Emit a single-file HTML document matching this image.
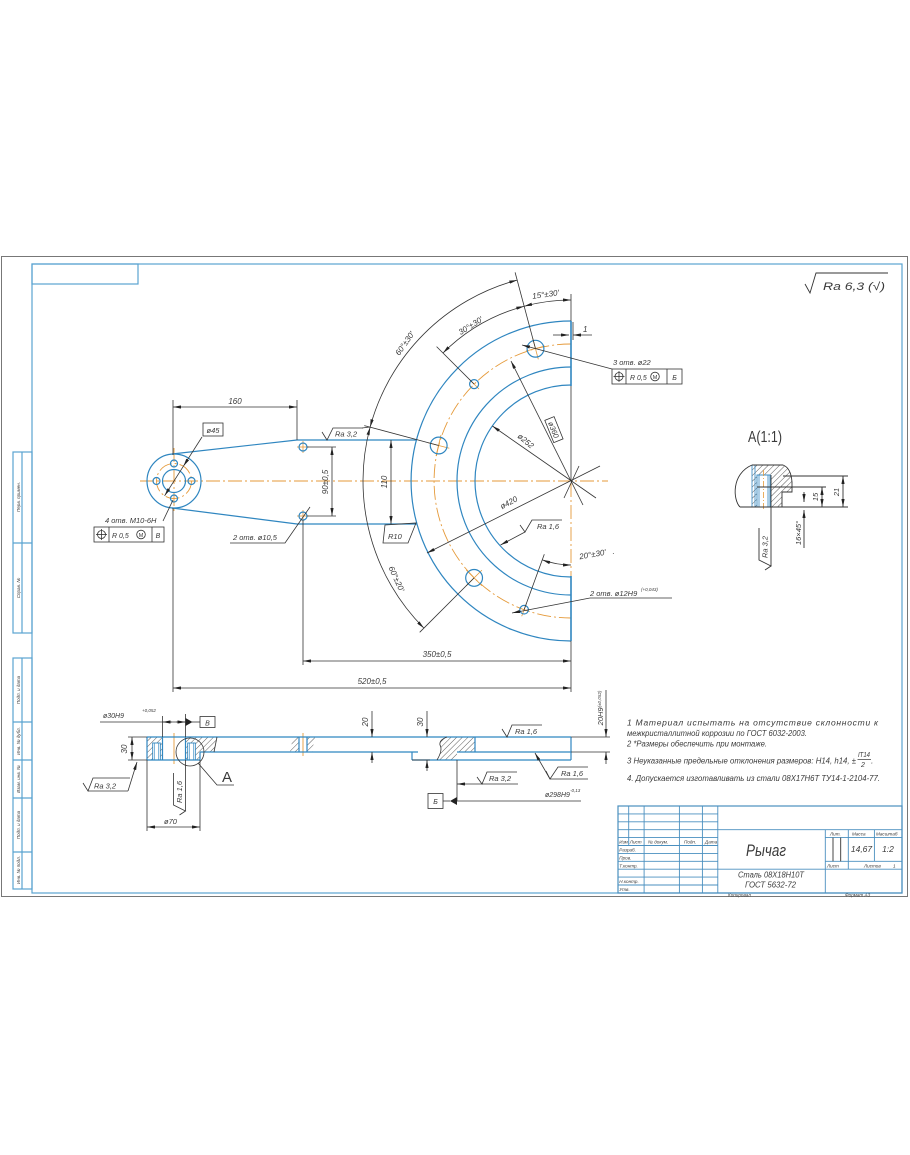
<!DOCTYPE html>
<html><head><meta charset="utf-8">
<style>
html,body{margin:0;padding:0;background:#fff;}
svg{display:block;}
text{font-family:"Liberation Sans","DejaVu Sans",sans-serif;font-style:italic;fill:#3a3a3a;}
.n{font-style:normal;}
</style></head><body>
<svg width="910" height="1155" viewBox="0 0 910 1155" xmlns="http://www.w3.org/2000/svg">
<defs>
<marker id="a" viewBox="0 0 10 4" refX="10" refY="2" markerWidth="8" markerHeight="3.2" markerUnits="userSpaceOnUse" orient="auto-start-reverse"><path d="M0,0L10,2L0,4z" fill="#222"/></marker>
<pattern id="h" patternUnits="userSpaceOnUse" width="4" height="4" patternTransform="rotate(45)"><line x1="0" y1="0" x2="0" y2="4" stroke="#333" stroke-width="0.8"/></pattern>
</defs>
<rect width="910" height="1155" fill="#fff"/>

<rect x="1.5" y="256.5" width="906" height="640" fill="none" stroke="#777" stroke-width="1"/>
<g fill="none" stroke="#5aa3d0" stroke-width="1.2">
<rect x="32" y="264" width="870" height="629"/>
<rect x="32" y="264" width="106" height="20"/>
<rect x="13" y="452" width="19" height="181"/>
<line x1="22" y1="452" x2="22" y2="633"/><line x1="13" y1="543" x2="32" y2="543"/>
<rect x="13" y="658" width="19" height="231"/>
<line x1="22" y1="658" x2="22" y2="889"/>
<line x1="13" y1="722" x2="32" y2="722"/><line x1="13" y1="760" x2="32" y2="760"/>
<line x1="13" y1="798" x2="32" y2="798"/><line x1="13" y1="852" x2="32" y2="852"/>
</g>
<g font-size="4.5">
<text transform="translate(20,497) rotate(-90)" text-anchor="middle">Перв. примен.</text>
<text transform="translate(20,588) rotate(-90)" text-anchor="middle">Справ. №</text>
<text transform="translate(20,690) rotate(-90)" text-anchor="middle">Подп. и дата</text>
<text transform="translate(20,741) rotate(-90)" text-anchor="middle">Инв. № дубл.</text>
<text transform="translate(20,779) rotate(-90)" text-anchor="middle">Взам. инв. №</text>
<text transform="translate(20,825) rotate(-90)" text-anchor="middle">Подп. и дата</text>
<text transform="translate(20,870) rotate(-90)" text-anchor="middle">Инв. № подл.</text>
</g>

<g fill="none" stroke="#4a8fbf" stroke-width="0.9">
<rect x="618" y="806" width="284" height="87" stroke-width="1.2"/>
<line x1="618" y1="813.9" x2="717.8" y2="813.9"/>
<line x1="618" y1="821.8" x2="717.8" y2="821.8"/>
<line x1="618" y1="829.7" x2="902" y2="829.7"/>
<line x1="618" y1="837.6" x2="717.8" y2="837.6"/>
<line x1="618" y1="845.5" x2="717.8" y2="845.5"/>
<line x1="618" y1="853.4" x2="717.8" y2="853.4"/>
<line x1="618" y1="861.3" x2="717.8" y2="861.3"/>
<line x1="618" y1="869.2" x2="902" y2="869.2"/>
<line x1="618" y1="877.1" x2="717.8" y2="877.1"/>
<line x1="618" y1="885" x2="717.8" y2="885"/>
<line x1="628.7" y1="806" x2="628.7" y2="845.5"/>
<line x1="644.1" y1="806" x2="644.1" y2="893"/>
<line x1="679.4" y1="806" x2="679.4" y2="893"/>
<line x1="702.4" y1="806" x2="702.4" y2="893"/>
<line x1="717.8" y1="806" x2="717.8" y2="893"/>
<line x1="825.3" y1="829.7" x2="825.3" y2="893"/>
<line x1="825.3" y1="837.6" x2="902" y2="837.6"/>
<line x1="825.3" y1="861.3" x2="902" y2="861.3"/>
<line x1="848.3" y1="829.7" x2="848.3" y2="869.2"/>
<line x1="874.4" y1="829.7" x2="874.4" y2="861.3"/>
<line x1="833" y1="837.6" x2="833" y2="861.3" stroke="#333"/>
<line x1="840.7" y1="837.6" x2="840.7" y2="861.3" stroke="#333"/>
</g>
<g font-size="4.6">
<text x="619.3" y="843.6">Изм</text><text x="629.8" y="843.6">Лист</text>
<text x="648" y="843.6">№ докум.</text><text x="684" y="843.6">Подп.</text><text x="705" y="843.6">Дата</text>
<text x="619.3" y="851.5">Разраб.</text><text x="619.3" y="859.4">Пров.</text>
<text x="619.3" y="867.3">Т.контр.</text><text x="619.3" y="883.1">Н.контр.</text><text x="619.3" y="891">Утв.</text>
<text x="830" y="835.6">Лит.</text><text x="852" y="835.6">Масса</text><text x="876" y="835.6">Масштаб</text>
<text x="827" y="867.3">Лист</text><text x="864" y="867.3">Листов</text><text x="893" y="867.3">1</text>
<text x="728" y="896.5">Копировал</text><text x="845" y="896.5">Формат  А3</text>
</g>
<text x="746" y="856" font-size="17" textLength="40" lengthAdjust="spacingAndGlyphs">Рычаг</text>
<text x="738" y="877.5" font-size="8" textLength="66" lengthAdjust="spacingAndGlyphs">Сталь 08Х18Н10Т</text>
<text x="745" y="887.5" font-size="8" textLength="51" lengthAdjust="spacingAndGlyphs">ГОСТ 5632-72</text>
<text x="861.5" y="852" font-size="8.5" text-anchor="middle">14,67</text>
<text x="888" y="852" font-size="8.5" text-anchor="middle">1:2</text>

<g font-size="8.5">
<text x="627" y="725.5" textLength="251" lengthAdjust="spacing">1 Материал   испытать   на   отсутствие   склонности   к</text>
<text x="627" y="736" textLength="180" lengthAdjust="spacingAndGlyphs">межкристаллитной коррозии по ГОСТ 6032-2003.</text>
<text x="627" y="746.5" textLength="140" lengthAdjust="spacingAndGlyphs">2  *Размеры обеспечить при монтаже.</text>
<text x="627" y="763.5" textLength="229" lengthAdjust="spacingAndGlyphs">3 Неуказанные предельные отклонения размеров: H14, h14, ±</text>
<text x="858" y="757" font-size="7" textLength="12" lengthAdjust="spacingAndGlyphs">IT14</text>
<line x1="857.5" y1="759.5" x2="871" y2="759.5" stroke="#333" stroke-width="0.7"/>
<text x="861" y="767" font-size="7">2</text><text x="871" y="763.5">.</text>
<text x="627" y="781" textLength="253" lengthAdjust="spacingAndGlyphs">4. Допускается изготавливать из стали 08Х17Н6Т ТУ14-1-2104-77.</text>
</g>

<path d="M805,284 L810,293 L816,273 L888,273" fill="none" stroke="#333" stroke-width="0.9"/>
<text x="823" y="290" font-size="11" textLength="62" lengthAdjust="spacingAndGlyphs">Ra 6,3 (√)</text>

<g stroke="#e59a3a" stroke-width="0.9" fill="none" stroke-dasharray="14 3 2 3">
<line x1="140" y1="481" x2="608" y2="481"/>
<line x1="174" y1="448" x2="174" y2="514"/>
<line x1="571" y1="483" x2="571" y2="576"/>
<path d="M571,344 A137,137 0 0 0 571,618"/>
<circle cx="174" cy="481" r="17.5"/>
</g>
<g stroke="#e59a3a" stroke-width="0.8">
<line x1="538.3" y1="359.3" x2="532.7" y2="338.1"/><line x1="526" y1="351" x2="545" y2="346"/>
<line x1="449.3" y1="448.3" x2="428.1" y2="442.7"/><line x1="436" y1="456" x2="441" y2="435"/>
<line x1="481.9" y1="570.1" x2="466.3" y2="585.7"/><line x1="466.3" y1="570.1" x2="481.9" y2="585.7"/>
<line x1="479" y1="389" x2="469.1" y2="379.1"/>
<line x1="526.5" y1="603.1" x2="521.7" y2="616.3"/>
<line x1="297" y1="447" x2="309" y2="447"/><line x1="303" y1="441" x2="303" y2="453"/>
<line x1="297" y1="516" x2="309" y2="516"/><line x1="303" y1="510" x2="303" y2="522"/>
</g>

<g stroke="#2f86c0" stroke-width="1.2" fill="none">
<path d="M571,321 A160,160 0 0 0 571,641"/>
<path d="M571,367 A114,114 0 0 0 571,595"/>
<path d="M571,385 A96,96 0 0 0 571,577"/>
<line x1="571" y1="321" x2="571" y2="386" stroke-width="1.6"/>
<line x1="571" y1="576" x2="571" y2="641" stroke-width="1.6"/>
<circle cx="174" cy="481" r="27"/>
<circle cx="174" cy="481" r="11.5"/>
<circle cx="156.5" cy="481" r="3.5"/><circle cx="191.5" cy="481" r="3.5"/>
<circle cx="174" cy="463.5" r="3.5"/><circle cx="174" cy="498.5" r="3.5"/>
<path d="M172,454 L297,440 L416,440"/>
<path d="M172,508 L297,524 L417,524"/>
<circle cx="303" cy="447" r="4"/><circle cx="303" cy="516" r="4"/>
<circle cx="535.5" cy="348.7" r="8.4"/>
<circle cx="438.7" cy="445.5" r="8.4"/>
<circle cx="474.1" cy="577.9" r="8.4"/>
<circle cx="474.1" cy="384.1" r="4.5"/>
<circle cx="524.1" cy="609.7" r="4.3"/>
</g>

<g stroke="#333" stroke-width="0.8" fill="none">
<line x1="571" y1="294" x2="571" y2="321"/>
<line x1="571" y1="386" x2="571" y2="481"/>
<line x1="571" y1="641" x2="571" y2="692"/>
<line x1="535.5" y1="348.7" x2="515.1" y2="272.4"/>
<line x1="474.1" y1="384.1" x2="436.6" y2="346.6"/>
<line x1="438.7" y1="445.5" x2="364.3" y2="425.6"/>
<line x1="474.1" y1="577.9" x2="419.7" y2="632.3"/>
<line x1="524.1" y1="609.7" x2="544.3" y2="554.3"/>
<line x1="173" y1="400" x2="173" y2="455"/>
<line x1="173" y1="508" x2="173" y2="692"/>
<line x1="297" y1="400" x2="297" y2="440"/>
<line x1="303" y1="520" x2="303" y2="665"/>
<line x1="307" y1="447" x2="336" y2="447"/>
<line x1="307" y1="516" x2="336" y2="516"/>
<path d="M517.2,280.1 A208,208 0 0 0 370.1,427.2" marker-start="url(#a)" marker-end="url(#a)"/>
<path d="M370.1,427.2 A208,208 0 0 0 423.9,628.1" marker-start="url(#a)" marker-end="url(#a)"/>
<path d="M571,300 A181,181 0 0 0 524.2,306.2" marker-start="url(#a)" marker-end="url(#a)"/>
<path d="M524.2,306.2 A181,181 0 0 0 443,353" marker-start="url(#a)" marker-end="url(#a)"/>
<path d="M542.3,559.9 A84,84 0 0 0 571,565" marker-start="url(#a)" marker-end="url(#a)"/>
<line x1="173" y1="407" x2="297" y2="407" marker-start="url(#a)" marker-end="url(#a)"/>
<line x1="332" y1="447" x2="332" y2="516" marker-start="url(#a)" marker-end="url(#a)"/>
<line x1="391" y1="440" x2="391" y2="524" marker-start="url(#a)" marker-end="url(#a)"/>
<line x1="303" y1="661" x2="571" y2="661" marker-start="url(#a)" marker-end="url(#a)"/>
<line x1="173" y1="688" x2="571" y2="688" marker-start="url(#a)" marker-end="url(#a)"/>
<line x1="553" y1="335" x2="569" y2="335" marker-end="url(#a)"/>
<line x1="592" y1="335" x2="573" y2="335" marker-end="url(#a)"/>
<line x1="573" y1="322" x2="573" y2="340"/>
<line x1="511" y1="361" x2="583" y2="505" marker-start="url(#a)"/>
<line x1="492.4" y1="426" x2="596" y2="498" marker-start="url(#a)"/>
<line x1="427" y1="553" x2="600" y2="466" marker-start="url(#a)"/>
<line x1="579" y1="466" x2="564" y2="498"/>
<line x1="522" y1="345" x2="612" y2="369" marker-start="url(#a)"/>
<line x1="512" y1="613" x2="590" y2="598" marker-start="url(#a)"/>
<line x1="590" y1="598" x2="672" y2="598"/>
<line x1="525" y1="532" x2="500.5" y2="545" marker-end="url(#a)"/>
<line x1="362" y1="428" x2="370" y2="427"/>
<path d="M230,543 L285,543 L310,507"/>
<line x1="202" y1="437" x2="183.4" y2="466.2" marker-end="url(#a)"/>
<line x1="183.4" y1="466.2" x2="164.6" y2="495.8" marker-end="url(#a)"/>
<line x1="163" y1="521" x2="173" y2="500"/>
<path d="M385,525 L416,523 L408,543 L383,543 Z"/>
</g>
<g stroke="#333" stroke-width="0.8" fill="none">
<path d="M322,432 L327,440 L333,428 L363,428"/>
<path d="M520,525 L525,532 L532,520 L562,520"/>
</g>
<g stroke="#333" stroke-width="0.8" fill="none">
<rect x="203" y="423" width="20" height="13"/>
<rect x="94" y="527" width="70" height="15"/>
<line x1="109" y1="527" x2="109" y2="542"/><line x1="152" y1="527" x2="152" y2="542"/>
<circle cx="101.5" cy="534.5" r="4"/><line x1="96" y1="534.5" x2="107" y2="534.5"/><line x1="101.5" y1="529" x2="101.5" y2="540"/>
<circle cx="141" cy="534.5" r="4.3"/>
<rect x="612" y="369" width="70" height="15"/>
<line x1="626" y1="369" x2="626" y2="384"/><line x1="667" y1="369" x2="667" y2="384"/>
<circle cx="619" cy="376.5" r="4"/><line x1="613.5" y1="376.5" x2="624.5" y2="376.5"/><line x1="619" y1="371" x2="619" y2="382"/>
<circle cx="655" cy="376.5" r="4.3"/>
</g>

<g font-size="8">
<text x="235" y="404" text-anchor="middle">160</text>
<text x="213" y="433" text-anchor="middle" font-size="7.5">ø45</text>
<text x="105" y="523" font-size="7.5">4 отв. M10-6H</text>
<text x="112" y="538" font-size="7">R 0,5</text>
<text x="141" y="537" font-size="5.5" text-anchor="middle" class="n">M</text>
<text x="158" y="538" font-size="7" text-anchor="middle">В</text>
<text x="233" y="540" font-size="7.5">2 отв. ø10,5</text>
<text x="335" y="436.5" font-size="7.5">Ra 3,2</text>
<text x="537" y="529" font-size="7.5">Ra 1,6</text>
<text transform="translate(328,482) rotate(-90)" text-anchor="middle">90±0,5</text>
<text transform="translate(387,482) rotate(-90)" text-anchor="middle">110</text>
<text x="388" y="539" font-size="7.5">R10</text>
<text transform="translate(407,345) rotate(-55)" text-anchor="middle">60°±30'</text>
<text transform="translate(472,328) rotate(-32)" text-anchor="middle">30°±30'</text>
<text transform="translate(546,297) rotate(-8)" text-anchor="middle">15°±30'</text>
<text transform="translate(394,580) rotate(65)" text-anchor="middle">60°±20'</text>
<text x="583" y="332">1</text>
<text x="613" y="365" font-size="7.5">3 отв. ø22</text>
<text x="630" y="380" font-size="7">R 0,5</text>
<text x="655" y="379" font-size="5.5" text-anchor="middle" class="n">M</text>
<text x="674.5" y="380" font-size="7" text-anchor="middle">Б</text>
<g transform="translate(553,430) rotate(68)"><rect x="-12" y="-6" width="24" height="10" fill="#fff" stroke="#333" stroke-width="0.8"/><text x="0" y="2" text-anchor="middle" font-size="7.5">ø360</text></g>
<text transform="translate(524,443) rotate(40)" text-anchor="middle">ø252</text>
<text transform="translate(510,505) rotate(-28)" text-anchor="middle">ø420</text>
<text transform="translate(593,557) rotate(-10)" text-anchor="middle">20°±30'</text>
<text x="612" y="556">·</text>
<text x="590" y="596" font-size="7.5">2 отв. ø12H9</text>
<text x="641" y="591" font-size="4.5">(+0,043)</text>
<text x="437" y="657" text-anchor="middle">350±0,5</text>
<text x="372" y="684" text-anchor="middle">520±0,5</text>
</g>

<g fill="url(#h)" stroke="none">
<rect x="147" y="737" width="15.5" height="23"/>
<polygon points="185.5,737 217,737 214,752 200,752 200,760 185.5,760"/>
<polygon points="293,737 299,737 299,752 290,752"/>
<polygon points="307,737 315,737 312,752 307,752"/>
<path d="M437,760 Q443,750 440,745 Q439,740 447,737 L475,737 L475,752 L457,752 L457,760 Z"/>
</g>
<g fill="#fff" stroke="#2f86c0" stroke-width="0.9">
<rect x="152.7" y="743" width="7.6" height="17"/>
<rect x="187.7" y="743" width="7.6" height="17"/>
</g>
<g stroke="#2f86c0" stroke-width="0.6">
<line x1="154.3" y1="743" x2="154.3" y2="760"/><line x1="158.7" y1="743" x2="158.7" y2="760"/>
<line x1="189.3" y1="743" x2="189.3" y2="760"/><line x1="193.7" y1="743" x2="193.7" y2="760"/>
</g>
<g stroke="#e59a3a" stroke-width="0.9">
<line x1="174" y1="733" x2="174" y2="764"/>
<line x1="303" y1="733" x2="303" y2="756"/>
</g>
<g stroke="#2f86c0" stroke-width="1.2" fill="none">
<line x1="147" y1="737" x2="571" y2="737"/>
<line x1="200" y1="752" x2="418" y2="752"/>
<line x1="475" y1="752" x2="571" y2="752"/>
<line x1="457" y1="752" x2="475" y2="752"/>
<line x1="147" y1="760" x2="200" y2="760"/>
<line x1="412" y1="760" x2="571" y2="760"/>
<line x1="147" y1="737" x2="147" y2="760"/>
<line x1="162.5" y1="737" x2="162.5" y2="760"/>
<line x1="185.5" y1="737" x2="185.5" y2="760"/>
<line x1="200" y1="752" x2="200" y2="760"/>
<line x1="412" y1="752" x2="412" y2="760"/>
<line x1="571" y1="737" x2="571" y2="760"/>
<line x1="299" y1="737" x2="299" y2="752"/>
<line x1="307" y1="737" x2="307" y2="752"/>
<line x1="475" y1="737" x2="475" y2="752"/>
</g>
<g stroke="#333" stroke-width="0.8" fill="none">
<path d="M437,760 Q443,750 440,745 Q439,740 447,737"/>
<path d="M217,737 L214,752"/>
<line x1="128" y1="737" x2="147" y2="737"/>
<line x1="128" y1="760" x2="147" y2="760"/>
<line x1="132" y1="737" x2="132" y2="760" marker-start="url(#a)" marker-end="url(#a)"/>
<line x1="571" y1="737" x2="610" y2="737"/>
<line x1="571" y1="752" x2="610" y2="752"/>
<line x1="606" y1="690" x2="606" y2="737" marker-end="url(#a)"/>
<line x1="606" y1="764" x2="606" y2="752" marker-end="url(#a)"/>
<line x1="372" y1="711" x2="372" y2="737" marker-end="url(#a)"/>
<line x1="372" y1="763" x2="372" y2="752" marker-end="url(#a)"/>
<line x1="427" y1="711" x2="427" y2="737" marker-end="url(#a)"/>
<line x1="427" y1="771" x2="427" y2="760" marker-end="url(#a)"/>
<line x1="412" y1="760" x2="430" y2="760"/>
<line x1="100" y1="722" x2="185" y2="722"/>
<line x1="172" y1="722" x2="162.5" y2="722" marker-end="url(#a)"/>
<line x1="176" y1="722" x2="185.5" y2="722" marker-end="url(#a)"/>
<line x1="162.5" y1="716" x2="162.5" y2="737"/>
<line x1="185.5" y1="714" x2="185.5" y2="737"/>
<line x1="192" y1="722" x2="200" y2="722"/>
<rect x="200" y="716.5" width="15" height="11"/>
<line x1="147" y1="760" x2="147" y2="831"/>
<line x1="200" y1="760" x2="200" y2="831"/>
<line x1="147" y1="827" x2="200" y2="827" marker-start="url(#a)" marker-end="url(#a)"/>
<line x1="185.5" y1="760" x2="185.5" y2="811"/>
<circle cx="190" cy="752" r="14"/>
<path d="M198,763 L217,785 L234,785"/>
<path d="M83,783 L88,791 L93,778 L130,778"/>
<line x1="88" y1="791" x2="128" y2="791"/>
<line x1="128" y1="791" x2="137" y2="762" marker-end="url(#a)"/>
<path d="M502,729 L507,737 L512,725 L542,725"/>
<line x1="550" y1="779" x2="535" y2="753" marker-end="url(#a)"/>
<path d="M546,771 L550,779 L558,767 L588,767"/>
<line x1="550" y1="779" x2="588" y2="779"/>
<line x1="518" y1="784" x2="457" y2="784" marker-end="url(#a)"/>
<path d="M477,777 L482,784 L487,772 L517,772"/>
<line x1="457" y1="760" x2="457" y2="801"/>
<line x1="457" y1="801" x2="581" y2="801"/>
<line x1="443" y1="801" x2="450" y2="801"/>
<rect x="428" y="793.5" width="15" height="15"/>
</g>
<polygon points="185.5,718 185.5,726 192.5,722" fill="#222"/>
<polygon points="457,797 457,805 450,801" fill="#222"/>
<g stroke="#333" stroke-width="0.8" fill="none">
<g transform="translate(185.5,811) rotate(-90)"><path d="M-4,-6 L0,0 L6,-12 L38,-12"/></g>
</g>
<g font-size="7.5">
<text x="103" y="718" font-size="7">ø30H9</text>
<text x="142" y="712" font-size="4.5">+0,052</text>
<text x="207.5" y="725.5" text-anchor="middle" font-size="7">В</text>
<text transform="translate(127,749) rotate(-90)" text-anchor="middle" font-size="8">30</text>
<text x="94" y="788.5">Ra 3,2</text>
<g transform="translate(185.5,811) rotate(-90)"><text x="8" y="-3.5">Ra 1,6</text></g>
<text x="164" y="824">ø70</text>
<text x="222" y="782" font-size="15" class="n">A</text>
<text transform="translate(368,722) rotate(-90)" text-anchor="middle" font-size="8">20</text>
<text transform="translate(423,722) rotate(-90)" text-anchor="middle" font-size="8">30</text>
<text transform="translate(603,708) rotate(-90)" text-anchor="middle" font-size="7.5">20H9<tspan font-size="4.5" dy="-2">(±0,052)</tspan></text>
<text x="515" y="734">Ra 1,6</text>
<text x="561" y="776">Ra 1,6</text>
<text x="489" y="781">Ra 3,2</text>
<text x="435.5" y="804" text-anchor="middle" font-size="7">Б</text>
<text x="545" y="797" font-size="7">ø298H9</text>
<text x="570" y="792" font-size="4.5">-0,13</text>
</g>

<text x="748" y="442" font-size="16" class="n" textLength="34" lengthAdjust="spacingAndGlyphs">A(1:1)</text>
<path d="M752,465 L783,465 Q791,468 792,482 L792,492 L782,492 L782,507 L752,507 Z" fill="url(#h)" stroke="none"/>
<rect x="757" y="475" width="13" height="32" fill="#fff" stroke="#2f86c0" stroke-width="0.9"/>
<g stroke="#2f86c0" stroke-width="0.8">
<line x1="752" y1="465" x2="752" y2="507"/><line x1="755" y1="465" x2="755" y2="507"/>
<line x1="759" y1="475" x2="759" y2="507"/><line x1="768" y1="475" x2="768" y2="507"/>
</g>
<line x1="763.5" y1="470" x2="763.5" y2="510" stroke="#e59a3a" stroke-width="0.8" stroke-dasharray="6 2 1 2"/>
<g stroke="#333" stroke-width="0.9" fill="none">
<path d="M752,465 L783,465 Q791,468 792,482 L792,492 L782,492 L782,507 L740,507"/>
<path d="M740,507 C733,500 731,474 752,465"/>
<line x1="757" y1="487" x2="792" y2="487"/>
<line x1="783" y1="476" x2="848" y2="476"/>
<line x1="792" y1="487" x2="826" y2="487"/>
<line x1="782" y1="507" x2="848" y2="507"/>
<line x1="843" y1="476" x2="843" y2="507" marker-start="url(#a)" marker-end="url(#a)"/>
<line x1="822" y1="487" x2="822" y2="507" marker-start="url(#a)" marker-end="url(#a)"/>
<line x1="804" y1="492" x2="804" y2="502" marker-end="url(#a)"/>
<line x1="804" y1="548" x2="804" y2="510" marker-end="url(#a)"/>
<line x1="771" y1="475" x2="771" y2="566"/>
<g transform="translate(771,566) rotate(-90)"><path d="M-4,-6 L0,0 L6,-12 L38,-12"/></g>
</g>
<g font-size="7.5">
<text transform="translate(839,492) rotate(-90)" text-anchor="middle">21</text>
<text transform="translate(818,497) rotate(-90)" text-anchor="middle">15</text>
<text transform="translate(801,533) rotate(-90)" text-anchor="middle">16×45°</text>
<g transform="translate(771,566) rotate(-90)"><text x="8" y="-3.5">Ra 3,2</text></g>
</g>
</svg>
</body></html>
